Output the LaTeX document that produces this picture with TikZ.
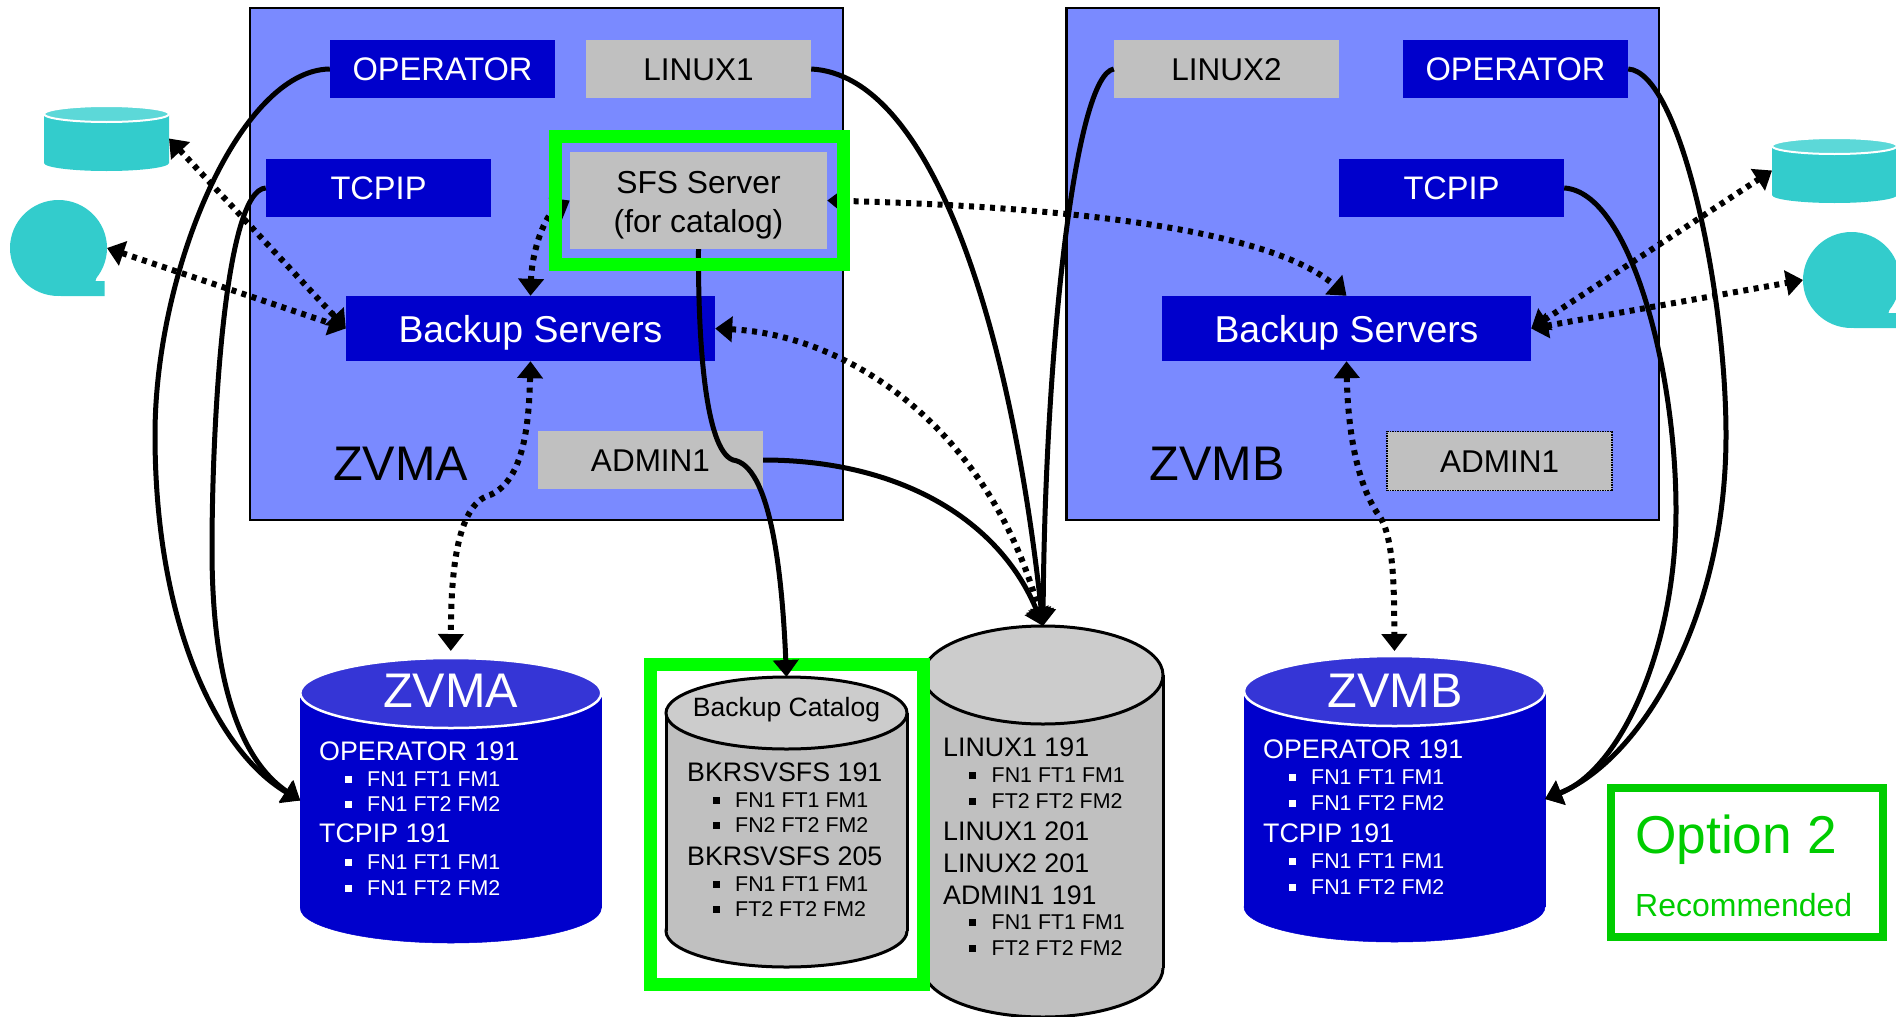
\documentclass[tikz,border=0pt]{standalone}
\usepackage{fontspec}
\setmainfont{Liberation Sans}
\usetikzlibrary{arrows.meta,shapes.geometric}
\definecolor{panel}{HTML}{7A8AFF}
\definecolor{navy}{HTML}{0000CC}
\definecolor{navytop}{HTML}{3535D6}
\definecolor{silver}{HTML}{C0C0C0}
\definecolor{silvertop}{HTML}{CCCCCC}
\definecolor{teal2}{HTML}{33CCCC}
\definecolor{tealtop}{HTML}{5CD8D8}
\definecolor{frameg}{HTML}{00FF00}
\definecolor{optg}{HTML}{00CC00}
\newcommand\fs[1]{\fontsize{#1}{#1}\selectfont}
\newcommand\blt[1]{\raisebox{4pt}{\rule{7pt}{7pt}}\hspace{15.5pt}#1}
% name, cx, top, bottom, rx, ry, side style, top style
\newcommand\cylshape[8]{%
  \path[#7] (#2,{#4-#6}) ellipse [x radius=#5,y radius=#6];
  \path[#7,draw=none] ({#2-#5},{#3+#6}) rectangle ({#2+#5},{#4-#6});
  \path[#7] ({#2-#5},{#3+#6}) -- ({#2-#5},{#4-#6}) ({#2+#5},{#3+#6}) -- ({#2+#5},{#4-#6});
  \path[#8] (#2,{#3+#6}) ellipse [x radius=#5,y radius=#6];
  \node[inner sep=0pt,outer sep=0pt,minimum width={2*#5*1pt},minimum height={(#4-#3)*1pt}] (#1) at (#2,{(#3+#4)/2}) {};
}
% name, cx, cy
\newcommand\bubbleshape[3]{%
  \fill[teal2] ({#2+2},{#3+48}) -- ({#2+46},{#3+48}) -- ({#2+46},{#3+33}) -- ({#2+37},{#3+33}) -- ({#2+42},{#3+15}) -- ({#2+2},{#3+15}) -- cycle;
  \node[ellipse,fill=teal2,inner sep=0pt,outer sep=0pt,minimum width=97pt,minimum height=96pt] (#1) at (#2,#3) {};
}
\tikzset{
  vmpanel/.style={draw=black,line width=2.5pt,fill=panel,inner sep=0pt},
  userbox/.style={fill=navy,text=white,inner sep=0pt,font=\fs{32.6},text height=23.5pt,text depth=0pt,minimum width=225pt,minimum height=58pt},
  greybox/.style={fill=silver,text=black,inner sep=0pt,font=\fs{31.5},text height=23.5pt,text depth=0pt,minimum width=225pt,minimum height=58pt},
  backupbox/.style={fill=navy,text=white,inner sep=0pt,font=\fs{37.4},text height=27.5pt,text depth=0pt,minimum width=369pt,minimum height=65pt},
  title/.style={inner sep=0pt,font=\fs{48.6}},
  head/.style={anchor=west,inner sep=0pt,font=\fs{26.8}},
  item/.style={anchor=west,inner sep=0pt,font=\fs{21.4}},
  solidline/.style={draw=black,line width=5pt,-{Triangle[width=25pt,length=17pt]}},
  dotline/.style={draw=black,line width=6pt,dash pattern=on 5pt off 5.5pt,{Triangle[width=25pt,length=17pt]}-{Triangle[width=25pt,length=17pt]}},
  bluebody/.style={fill=navy,draw=navy,line width=0.5pt},
  bluetop/.style={fill=navytop,draw=white,line width=2.5pt},
  greybody/.style={fill=silver,draw=black,line width=3pt},
  greytop/.style={fill=silvertop,draw=black,line width=3pt},
  tealbody/.style={fill=teal2},
  tealcap/.style={fill=tealtop,draw=white,line width=2pt},
}
\begin{document}
\begin{tikzpicture}[x=1pt,y=-1pt]
\useasboundingbox (0,0) rectangle (1896,1017);
\clip (0,0) rectangle (1896,1017);
% panels
\node[vmpanel,minimum width=593pt,minimum height=512pt] (panA) at (546.5,264) {};
\node[vmpanel,minimum width=592.5pt,minimum height=512pt] (panB) at (1362.75,264) {};
% boxes A
\node[userbox] (opA) at (442.5,69) {OPERATOR};
\node[greybox] (linA) at (698.5,69) {LINUX1};
\node[userbox] (tcpA) at (378.5,188) {TCPIP};
\node[fill=silver,inner sep=0pt,minimum width=257pt,minimum height=97pt,align=center,font=\fs{31.8}] (sfs) at (698.5,200.5) {\rule{0pt}{31pt}SFS Server\\[7pt](for catalog)};
\node[backupbox] (bakA) at (530.5,328.5) {Backup Servers};
\node[greybox] (admA) at (650.5,460) {ADMIN1};
\node[title] (nameA) at (400.5,464) {ZVMA};
% boxes B
\node[greybox] (linB) at (1226.5,69) {LINUX2};
\node[userbox] (opB) at (1515.5,69) {OPERATOR};
\node[userbox] (tcpB) at (1451.5,188) {TCPIP};
\node[backupbox] (bakB) at (1346.5,328.5) {Backup Servers};
\node[greybox,draw=black,densely dotted,line width=1.5pt,minimum height=59pt] (admB) at (1499.5,461) {ADMIN1};
\node[title] (nameB) at (1217,464) {ZVMB};
% side icons
\cylshape{cylL}{106.5}{106}{171}{62.5}{8}{tealbody}{tealcap}
\cylshape{cylR}{1834.5}{138}{203}{62.5}{8}{tealbody}{tealcap}
\bubbleshape{bubL}{58.5}{248}
\bubbleshape{bubR}{1851.5}{280}
% disks
\cylshape{diskA}{450.8}{658}{943}{150.5}{35}{bluebody}{bluetop}
\cylshape{diskB}{1394.5}{656}{942}{150.5}{35}{bluebody}{bluetop}
\cylshape{diskC}{1043}{626}{1017}{120}{49}{greybody}{greytop}
\node[draw=frameg,line width=13pt,fill=white,inner sep=0pt,minimum width=273pt,minimum height=320pt] (catframe) at (787,824.5) {};
\cylshape{diskCat}{786.5}{677}{967}{120.5}{36}{greybody}{greytop}
% disk A text
\node[title,text=white] (tA) at (450.5,691) {ZVMA};
\node[head,text=white] (a1) at (319,751) {OPERATOR 191};
\node[item,text=white] (a2) at (344.5,779.5) {\blt{FN1 FT1 FM1}};
\node[item,text=white] (a3) at (344.5,804.5) {\blt{FN1 FT2 FM2}};
\node[head,text=white] (a4) at (319,833.5) {TCPIP 191};
\node[item,text=white] (a5) at (344.5,862.5) {\blt{FN1 FT1 FM1}};
\node[item,text=white] (a6) at (344.5,888.5) {\blt{FN1 FT2 FM2}};
% disk B text
\node[title,text=white] (tB) at (1395,691) {ZVMB};
\node[head,text=white] (b1) at (1263,749) {OPERATOR 191};
\node[item,text=white] (b2) at (1288.5,777.5) {\blt{FN1 FT1 FM1}};
\node[item,text=white] (b3) at (1288.5,803.5) {\blt{FN1 FT2 FM2}};
\node[head,text=white] (b4) at (1263,833.5) {TCPIP 191};
\node[item,text=white] (b5) at (1288.5,861.5) {\blt{FN1 FT1 FM1}};
\node[item,text=white] (b6) at (1288.5,887.5) {\blt{FN1 FT2 FM2}};
% catalog text
\node[inner sep=0pt,font=\fs{26.5}] (tCat) at (786.5,710) {Backup Catalog};
\node[head] (c1) at (687,772) {BKRSVSFS 191};
\node[item] (c2) at (712.5,800.5) {\blt{FN1 FT1 FM1}};
\node[item] (c3) at (712.5,825.5) {\blt{FN2 FT2 FM2}};
\node[head] (c4) at (687,856) {BKRSVSFS 205};
\node[item] (c5) at (712.5,884.5) {\blt{FN1 FT1 FM1}};
\node[item] (c6) at (712.5,909.5) {\blt{FT2 FT2 FM2}};
% shared disk text
\node[head] (d1) at (943,747) {LINUX1 191};
\node[item] (d2) at (969,775.5) {\blt{FN1 FT1 FM1}};
\node[item] (d3) at (969,801.5) {\blt{FT2 FT2 FM2}};
\node[head] (d4) at (943,831) {LINUX1 201};
\node[head] (d5) at (943,863) {LINUX2 201};
\node[head] (d6) at (943,895) {ADMIN1 191};
\node[item] (d7) at (969,922.5) {\blt{FN1 FT1 FM1}};
\node[item] (d8) at (969,948.5) {\blt{FT2 FT2 FM2}};
% option box
\node[draw=optg,line width=8pt,inner sep=0pt,minimum width=272.5pt,minimum height=149pt] (optbox) at (1747,862) {};
\node[anchor=west,inner sep=0pt,text=optg,font=\fs{53.3}] (opt1) at (1635,840) {Option 2};
\node[anchor=west,inner sep=0pt,text=optg,font=\fs{32}] (opt2) at (1635,905) {Recommended};
% solid connectors
\draw[solidline] (opA.west) .. controls (240,70) and (155,270) .. (155,435) .. controls (155,620) and (215,750) .. (diskA.west);
\draw[solidline] (tcpA.west) .. controls (225,190) and (212,420) .. (212,550) .. controls (212,680) and (240,760) .. (diskA.west);
\draw[solidline] (linA.east) .. controls (930,75) and (1010,320) .. (diskC.north);
\draw[solidline] (linB.west) .. controls (1075,75) and (1045,350) .. (diskC.north);
\draw[solidline] (admA.east) .. controls (900,460) and (1000,520) .. (diskC.north);
\draw[solidline] (sfs.south) .. controls (698,340) and (705,450) .. (733,460) .. controls (770,465) and (782,570) .. (diskCat.north);
\draw[solidline] (opB.east) .. controls (1680,72) and (1726,290) .. (1726,435) .. controls (1726,620) and (1640,760) .. (diskB.east);
\draw[solidline] (tcpB.east) .. controls (1630,192) and (1676,370) .. (1676,510) .. controls (1676,650) and (1620,770) .. (diskB.east);
% dotted connectors
\draw[dotline] (cylL.east) -- (bakA.west);
\draw[dotline] (bubL.east) -- (bakA.west);
\draw[dotline] (sfs.west) .. controls (545,215) and (532,250) .. (bakA.north);
\draw[dotline] (sfs.east) .. controls (1000,205) and (1260,220) .. (bakB.north);
\draw[dotline] (bakA.east) .. controls (850,335) and (990,430) .. (diskC.north);
\draw[dotline] (bakA.south) .. controls (529,420) and (525,480) .. (490,495) .. controls (455,505) and (451,580) .. ([yshift=7pt]diskA.north);
\draw[dotline] (bakB.south) .. controls (1348,440) and (1360,490) .. (1380,517) .. controls (1395,540) and (1394,600) .. ([yshift=5pt]diskB.north);
\draw[dotline] (bakB.east) -- (cylR.west);
\draw[dotline] (bakB.east) -- (bubR.west);
% SFS frame on top
\node[draw=frameg,line width=13pt,inner sep=0pt,minimum width=288pt,minimum height=127.5pt] (sfsframe) at (699,200.5) {};
\end{tikzpicture}
\end{document}
